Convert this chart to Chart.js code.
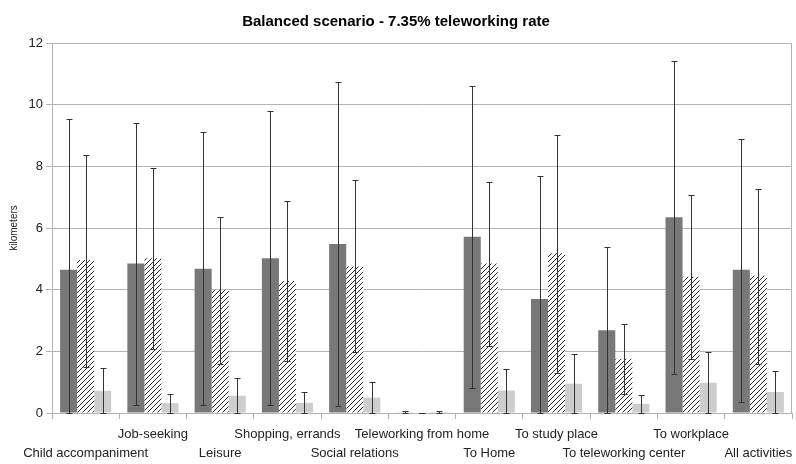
<!DOCTYPE html>
<html>
<head>
<meta charset="utf-8">
<script src="https://cdn.jsdelivr.net/npm/chart.js@4/dist/chart.umd.min.js"></script>
<style>
html,body{margin:0;padding:0;background:#fff;}
#wrap{width:796px;height:464px;position:relative;}
</style>
</head>
<body>
<div id="wrap"><canvas id="c" width="796" height="464"></canvas></div>
<script>
const categories = ['Child accompaniment','Job-seeking','Leisure','Shopping, errands','Social relations','Teleworking from home','To Home','To study place','To teleworking center','To workplace','All activities'];
const yTicks = [0,2,4,6,8,10,12];

const darkMean  = [4.65, 4.85, 4.68, 5.02, 5.48, 0.02, 5.72, 3.70, 2.68, 6.35, 4.65];
const darkUpper = [9.55, 9.42, 9.10, 9.78, 10.75, 0.07, 10.60, 7.70, 5.37, 11.40, 8.90];
const darkLower = [0.00, 0.27, 0.27, 0.25, 0.22, 0.00, 0.82, 0.00, 0.00, 1.28, 0.37];

const hatchMean  = [4.96, 5.02, 4.00, 4.28, 4.75, 0.00, 4.85, 5.18, 1.76, 4.42, 4.45];
const hatchUpper = [8.38, 7.95, 6.35, 6.87, 7.55, 0.01, 7.50, 9.03, 2.88, 7.08, 7.28];
const hatchLower = [1.50, 2.06, 1.60, 1.69, 1.97, 0.00, 2.18, 1.30, 0.62, 1.74, 1.60];

const lightMean  = [0.72, 0.32, 0.56, 0.33, 0.50, 0.03, 0.73, 0.95, 0.30, 0.98, 0.68];
const lightUpper = [1.47, 0.63, 1.13, 0.68, 1.01, 0.06, 1.43, 1.90, 0.60, 1.99, 1.36];
const lightLower = [0.00, 0.00, 0.00, 0.00, 0.00, 0.00, 0.00, 0.00, 0.00, 0.00, 0.00];

const staggered = categories.map((c, i) => i % 2 === 0 ? ['', c] : [c, '']);

function hatchPattern() {
  const s = 5;
  const cv = document.createElement('canvas');
  cv.width = s; cv.height = s;
  const g = cv.getContext('2d');
  g.fillStyle = '#ffffff';
  g.fillRect(0, 0, s, s);
  g.strokeStyle = '#2a2a2a';
  g.lineWidth = 1;
  g.beginPath();
  g.moveTo(0, s); g.lineTo(s, 0);
  g.moveTo(-1, 1); g.lineTo(1, -1);
  g.moveTo(s - 1, s + 1); g.lineTo(s + 1, s - 1);
  g.stroke();
  return g.createPattern(cv, 'repeat');
}

const errorData = [
  {upper: darkUpper, lower: darkLower},
  {upper: hatchUpper, lower: hatchLower},
  {upper: lightUpper, lower: lightLower}
];

const errorBars = {
  id: 'errorBars',
  afterDatasetsDraw(chart) {
    const ctx = chart.ctx;
    const ys = chart.scales.y;
    ctx.save();
    ctx.strokeStyle = '#333333';
    ctx.lineWidth = 1;
    errorData.forEach((ed, di) => {
      const meta = chart.getDatasetMeta(di);
      meta.data.forEach((el, j) => {
        const x = Math.round(el.x) + 0.5;
        const yt = Math.round(ys.getPixelForValue(ed.upper[j])) + 0.5;
        const yb = Math.round(ys.getPixelForValue(Math.max(0, ed.lower[j]))) + 0.5;
        ctx.beginPath();
        ctx.moveTo(x, yt); ctx.lineTo(x, yb);
        ctx.moveTo(x - 3, yt); ctx.lineTo(x + 3, yt);
        ctx.moveTo(x - 3, yb); ctx.lineTo(x + 3, yb);
        ctx.stroke();
      });
    });
    ctx.restore();
  }
};

const frame = {
  id: 'frame',
  beforeDatasetsDraw(chart) {
    const a = chart.chartArea;
    const ctx = chart.ctx;
    ctx.save();
    ctx.strokeStyle = '#b3b3b3';
    ctx.lineWidth = 1;
    ctx.beginPath();
    ctx.moveTo(Math.round(a.right) - 0.5, a.top);
    ctx.lineTo(Math.round(a.right) - 0.5, a.bottom);
    ctx.stroke();
    ctx.restore();
  }
};

new Chart(document.getElementById('c'), {
  type: 'bar',
  data: {
    labels: staggered,
    datasets: [
      {data: darkMean, backgroundColor: '#787878', borderWidth: 0},
      {data: hatchMean, backgroundColor: hatchPattern(), borderWidth: 0},
      {data: lightMean, backgroundColor: '#cdcdcd', borderWidth: 0}
    ]
  },
  options: {
    responsive: false,
    animation: false,
    devicePixelRatio: 1,
    layout: {padding: {top: 1, right: 4, left: 0, bottom: 0}},
    datasets: {bar: {categoryPercentage: 0.76, barPercentage: 1.0}},
    plugins: {
      legend: {display: false},
      tooltip: {enabled: false},
      title: {
        display: true,
        text: 'Balanced scenario - 7.35% teleworking rate',
        color: '#000000',
        font: {family: 'Liberation Sans', size: 15, weight: 'bold', lineHeight: 1.2},
        padding: {top: 12, bottom: 12}
      }
    },
    scales: {
      x: {
        grid: {display: true, drawOnChartArea: false, drawTicks: true, tickLength: 6, color: '#b3b3b3', offset: true},
        border: {display: true, color: '#b3b3b3'},
        ticks: {
          autoSkip: false, maxRotation: 0, minRotation: 0,
          color: '#222222',
          font: {family: 'Liberation Sans', size: 13, lineHeight: 1.45},
          padding: 6
        },
        afterFit(s) { s.height = 51; s.paddingLeft = 0; s.paddingRight = 0; }
      },
      y: {
        min: 0, max: 12,
        afterBuildTicks(s) { s.ticks = yTicks.map(v => ({value: v})); },
        grid: {color: '#b3b3b3', tickLength: 6, drawTicks: true},
        border: {display: true, color: '#b3b3b3'},
        ticks: {
          color: '#222222',
          font: {family: 'Liberation Sans', size: 13},
          padding: 3
        },
        title: {
          display: true,
          text: 'kilometers',
          color: '#222222',
          font: {family: 'Liberation Sans', size: 10, lineHeight: 1.2},
          padding: {top: 8, bottom: 0}
        },
        afterFit(s) { s.width = 52; s.paddingTop = 0; s.paddingBottom = 0; }
      }
    }
  },
  plugins: [errorBars, frame]
});
</script>
</body>
</html>
